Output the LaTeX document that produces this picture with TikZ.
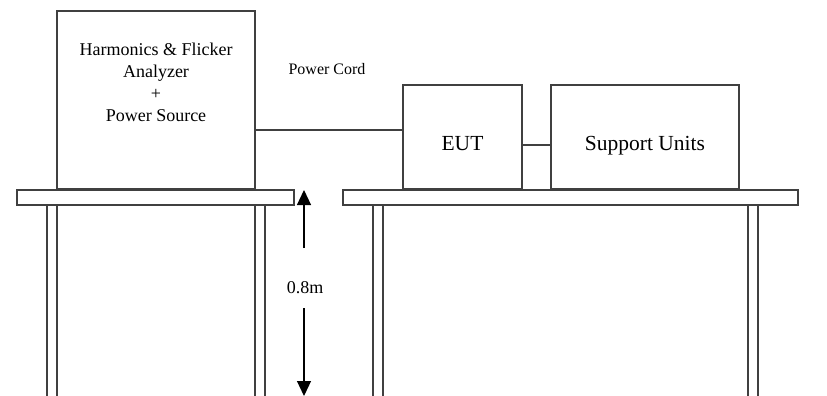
\documentclass[tikz,border=0pt]{standalone}
\usepackage{fontspec}
\setmainfont{Liberation Serif}
\usetikzlibrary{arrows.meta}

\begin{document}
\begin{tikzpicture}[
    x=1pt, y=-1pt,
    unit/.style={draw=black!75, line width=1.2pt, inner sep=0pt},
    board/.style={draw=black!75, line width=1.2pt, inner sep=0pt, minimum height=15pt},
    leg/.style={draw=black!75, line width=1.2pt},
    cord/.style={draw=black!75, line width=1.2pt},
    dim/.style={draw=black, line width=1.2pt, -{Triangle[width=14pt,length=15pt]}}
]
\useasboundingbox (0,0) rectangle (827,396);

% Analyzer + source
\node[unit, minimum width=198pt, minimum height=178pt] (analyzer) at (156,100) {};
\node[font=\fontsize{18}{22}\selectfont, align=center] (analyzertext) at (156,82)
    {Harmonics \& Flicker\\Analyzer\\+\\Power Source};

% EUT and support units
\node[unit, minimum width=119pt, minimum height=104pt, text height=26pt, text depth=0pt,
    font=\fontsize{21.5}{25}\selectfont] (eut) at (462.5,137) {EUT};
\node[unit, minimum width=188pt, minimum height=104pt, text height=26pt, text depth=0pt,
    font=\fontsize{21.5}{25}\selectfont] (support) at (645,137) {Support Units};

% Cables
\node[font=\fontsize{16}{19}\selectfont] (cordlabel) at (327,69) {Power Cord};
\draw[cord] ([yshift=-30pt]analyzer.east) -- ([yshift=-30pt]analyzer.east -| eut.west);
\draw[cord] ([yshift=-8pt]eut.east) -- ([yshift=-8pt]eut.east -| support.west);

% Tables
\node[board, minimum width=277pt] (desk1) at (155.5,197.5) {};
\node[board, minimum width=455pt] (desk2) at (570.5,197.5) {};
\foreach \x in {47,57,255,265,373,383,748,758}
    \draw[leg] (\x,205) -- (\x,396);

% Height
\coordinate (htop) at (304,190);
\coordinate (hbot) at (304,396);
\coordinate (gaptop) at (304,248);
\coordinate (gapbot) at (304,308);
\node[font=\fontsize{18}{22}\selectfont] (height) at (305,288) {0.8m};
\draw[dim] (gaptop) -- (htop);
\draw[dim] (gapbot) -- (hbot);

\end{tikzpicture}
\end{document}
